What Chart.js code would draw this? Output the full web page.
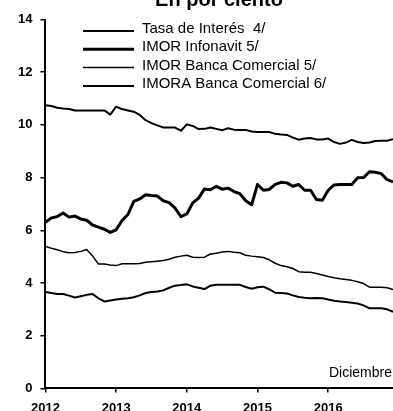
<!DOCTYPE html>
<html>
<head>
<meta charset="utf-8">
<script src="https://cdn.jsdelivr.net/npm/chart.js@4.4.1/dist/chart.umd.min.js"></script>
<style>
  html, body { margin: 0; padding: 0; background: #fff; overflow: hidden; }
  #clip { position: relative; width: 393px; height: 411px; overflow: hidden; background: #fff; }
  #box { position: absolute; left: 0; top: 0; width: 401px; height: 424px; }
</style>
</head>
<body>
<div id="clip"><div id="box"><canvas id="c"></canvas></div></div>
<script>
const titleText = 'En por ciento';
const noteText = 'Diciembre';
const yearTicks = ['2012', '2013', '2014', '2015', '2016'];
const seriesNames = ['Tasa de Interés  4/', 'IMOR Infonavit 5/', 'IMOR Banca Comercial 5/', 'IMORA Banca Comercial 6/'];

const tasaInteres = [10.75,10.72,10.65,10.62,10.6,10.55,10.55,10.55,10.55,10.55,10.55,10.39,10.69,10.6,10.55,10.5,10.38,10.18,10.07,9.98,9.9,9.9,9.9,9.78,10.02,9.96,9.84,9.85,9.9,9.85,9.8,9.87,9.82,9.81,9.81,9.75,9.73,9.73,9.73,9.66,9.64,9.62,9.52,9.44,9.48,9.5,9.45,9.45,9.48,9.35,9.28,9.33,9.43,9.35,9.31,9.33,9.39,9.4,9.4,9.46];
const imorInfonavit = [6.3,6.47,6.52,6.66,6.5,6.54,6.43,6.38,6.2,6.12,6.04,5.92,6.02,6.37,6.6,7.1,7.19,7.35,7.32,7.3,7.12,7.05,6.84,6.52,6.62,7.04,7.22,7.57,7.54,7.67,7.56,7.6,7.47,7.39,7.12,6.97,7.74,7.52,7.55,7.74,7.82,7.8,7.67,7.74,7.52,7.52,7.17,7.14,7.52,7.72,7.74,7.74,7.74,7.99,8.0,8.22,8.2,8.15,7.92,7.84];
const imorBanca = [5.39,5.32,5.26,5.19,5.15,5.16,5.2,5.27,5.02,4.72,4.72,4.68,4.66,4.73,4.73,4.73,4.74,4.79,4.81,4.83,4.85,4.9,4.98,5.02,5.05,4.98,4.97,4.98,5.1,5.13,5.18,5.2,5.17,5.15,5.05,5.02,5.0,4.97,4.88,4.75,4.66,4.62,4.55,4.43,4.41,4.41,4.36,4.3,4.25,4.2,4.16,4.13,4.1,4.05,3.98,3.84,3.84,3.84,3.82,3.75];
const imoraBanca = [3.66,3.62,3.58,3.58,3.52,3.45,3.5,3.55,3.58,3.42,3.3,3.34,3.37,3.4,3.42,3.46,3.53,3.62,3.66,3.68,3.72,3.82,3.9,3.92,3.95,3.87,3.82,3.77,3.9,3.93,3.93,3.93,3.93,3.93,3.85,3.78,3.84,3.86,3.76,3.63,3.62,3.6,3.53,3.47,3.44,3.42,3.43,3.42,3.37,3.33,3.3,3.28,3.25,3.22,3.15,3.04,3.04,3.04,3.0,2.91];

const months = [];
yearTicks.forEach(y => { for (let m = 1; m <= 12; m++) months.push(y + '-' + String(m).padStart(2, '0')); });

const FONT = 'Liberation Sans, Arial, sans-serif';

const overlay = {
  id: 'overlay',
  afterDraw(chart) {
    const ctx = chart.ctx;
    ctx.save();
    ctx.fillStyle = '#000';
    ctx.strokeStyle = '#000';
    // title (top cut off)
    ctx.font = 'bold 20px ' + FONT;
    ctx.textAlign = 'center';
    ctx.textBaseline = 'alphabetic';
    ctx.fillText(titleText, 219, 6);
    // legend
    ctx.font = '15px ' + FONT;
    ctx.textAlign = 'left';
    ctx.textBaseline = 'middle';
    chart.data.datasets.forEach((ds, k) => {
      const y = 31 + 18.3 * k;
      ctx.lineWidth = ds.borderWidth;
      ctx.beginPath();
      ctx.moveTo(83, y);
      ctx.lineTo(134, y);
      ctx.stroke();
      ctx.fillText(ds.label, 142, y - 2);
    });
    // note
    ctx.font = '14px ' + FONT;
    ctx.textAlign = 'right';
    ctx.fillText(noteText, 392, 373);
    ctx.restore();
  }
};

new Chart(document.getElementById('c'), {
  type: 'line',
  data: {
    labels: months,
    datasets: [
      { label: seriesNames[0], data: tasaInteres, borderColor: '#000', borderWidth: 2 },
      { label: seriesNames[1], data: imorInfonavit, borderColor: '#000', borderWidth: 3 },
      { label: seriesNames[2], data: imorBanca, borderColor: '#000', borderWidth: 1.5 },
      { label: seriesNames[3], data: imoraBanca, borderColor: '#000', borderWidth: 2 }
    ]
  },
  options: {
    responsive: true,
    maintainAspectRatio: false,
    animation: false,
    devicePixelRatio: 1,
    elements: { point: { radius: 0 }, line: { tension: 0, borderJoinStyle: 'round' } },
    layout: { padding: { left: 10, top: 19.5, right: 0, bottom: 0 } },
    plugins: { legend: { display: false }, title: { display: false }, tooltip: { enabled: false } },
    scales: {
      x: {
        type: 'category',
        offset: false,
        border: { display: true, color: '#000', width: 2 },
        grid: {
          drawOnChartArea: false, drawTicks: true, tickLength: 4, lineWidth: 1.5,
          color: c => (c.index % 12 === 0 ? '#000' : 'rgba(0,0,0,0)')
        },
        ticks: {
          autoSkip: false, maxRotation: 0, minRotation: 0, padding: 8, color: '#000',
          font: { family: FONT, size: 13, weight: 'bold' },
          callback: (v, i) => (i % 12 === 0 ? yearTicks[i / 12] : '')
        }
      },
      y: {
        min: 0, max: 14,
        border: { display: true, color: '#000', width: 2 },
        grid: { drawOnChartArea: false, drawTicks: true, tickLength: 5, color: '#000', lineWidth: 1.5 },
        ticks: { stepSize: 2, padding: 8, color: '#000', font: { family: FONT, size: 13, weight: 'bold' } }
      }
    }
  },
  plugins: [overlay]
});
</script>
</body>
</html>
